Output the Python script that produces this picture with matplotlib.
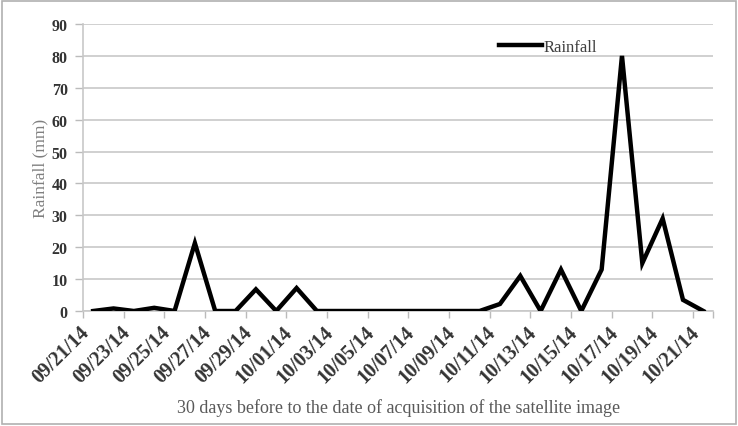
import matplotlib
matplotlib.use('Agg')
import matplotlib.pyplot as plt
from matplotlib.patches import Rectangle

dates = ['09/21/14', '09/22/14', '09/23/14', '09/24/14', '09/25/14', '09/26/14',
         '09/27/14', '09/28/14', '09/29/14', '09/30/14', '10/01/14', '10/02/14',
         '10/03/14', '10/04/14', '10/05/14', '10/06/14', '10/07/14', '10/08/14',
         '10/09/14', '10/10/14', '10/11/14', '10/12/14', '10/13/14', '10/14/14',
         '10/15/14', '10/16/14', '10/17/14', '10/18/14', '10/19/14', '10/20/14',
         '10/21/14']
rainfall = [0, 0.8, 0, 1, 0, 21.3, 0, 0, 6.8, 0, 7.2, 0,
            0, 0, 0, 0, 0, 0, 0, 0, 2.2, 11, 0, 13,
            0, 13, 80, 15, 29, 3.5, 0]
yticks = [0, 10, 20, 30, 40, 50, 60, 70, 80, 90]

plt.rcParams['font.family'] = ['Liberation Serif', 'DejaVu Serif']

fig = plt.figure(figsize=(7.38, 4.27), dpi=100)
ax = fig.add_axes([0.1125, 0.2693, 0.8543, 0.6722])

x = list(range(len(dates)))
ax.plot(x, rainfall, color='black', lw=3.2, solid_joinstyle='miter', label='Rainfall', zorder=3)

ax.set_xlim(-0.5, len(dates) - 0.5)
ax.set_ylim(0, 90)
ax.set_yticks(yticks)
ax.set_yticklabels([str(v) for v in yticks], fontsize=11.5, fontweight='bold', color='#333333')
ax.yaxis.grid(True, color='#c8c8c8', lw=1.2)
ax.set_axisbelow(True)

# category labels every 2 days, tick marks between categories
ax.set_xticks(x[::2])
ax.set_xticklabels(dates[::2], rotation=45, ha='right', fontsize=14.5,
                   fontweight='bold', color='#333333')
ax.tick_params(axis='x', length=0, pad=8)
ax.set_xticks([i - 0.5 for i in x[::2]] + [len(dates) - 0.5], minor=True)
ax.tick_params(axis='x', which='minor', length=5, color='#bbbbbb', width=1)
ax.tick_params(axis='y', length=6, color='#bbbbbb', width=1, pad=5)

for s in ['top', 'right']:
    ax.spines[s].set_visible(False)
ax.spines['left'].set_color('#c8c8c8')
ax.spines['bottom'].set_color('#c8c8c8')
ax.spines['left'].set_linewidth(1.2)
ax.spines['bottom'].set_linewidth(1.2)

ax.set_ylabel('Rainfall (mm)', fontsize=12.5, color='#7f7f7f', labelpad=2)
ax.set_xlabel('30 days before to the date of acquisition of the satellite image',
              fontsize=13, color='#595959', labelpad=8)

leg = ax.legend(loc='upper left', bbox_to_anchor=(0.636, 1.0), frameon=False,
                fontsize=12, handlelength=2.6, handletextpad=0.1)
for t in leg.get_texts():
    t.set_color('#404040')

fig.patches.append(Rectangle((0.003, 0.005), 0.994, 0.99, transform=fig.transFigure,
                             fill=False, edgecolor='#b0b0b0', lw=1.2))

fig.savefig('out.png', dpi=100)
